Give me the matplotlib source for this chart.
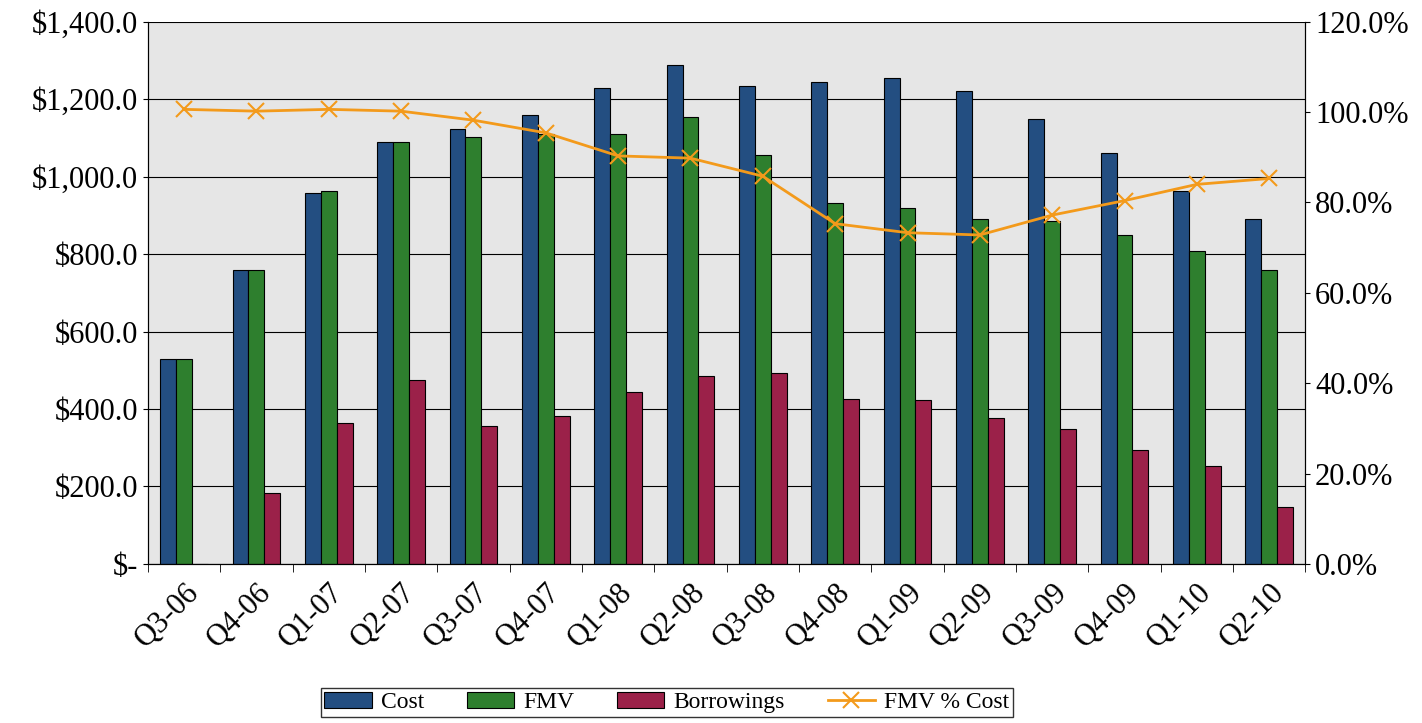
import matplotlib.pyplot as plt
import numpy as np
from matplotlib.ticker import FuncFormatter

quarters = ['Q3-06', 'Q4-06', 'Q1-07', 'Q2-07', 'Q3-07', 'Q4-07', 'Q1-08', 'Q2-08',
            'Q3-08', 'Q4-08', 'Q1-09', 'Q2-09', 'Q3-09', 'Q4-09', 'Q1-10', 'Q2-10']
cost = [530, 760, 958, 1090, 1123, 1160, 1230, 1288, 1235, 1243, 1255, 1222, 1148, 1060, 962, 890]
fmv = [530, 760, 962, 1090, 1102, 1110, 1110, 1155, 1057, 933, 920, 890, 885, 850, 808, 760]
borrowings = [0, 183, 365, 476, 357, 382, 443, 485, 493, 425, 422, 377, 348, 293, 253, 147]
fmv_pct = [100.6, 100.2, 100.6, 100.2, 98.2, 95.4, 90.3, 89.8, 85.8, 75.3, 73.3, 72.8,
           77.2, 80.4, 84.0, 85.3]

plt.rcParams['font.family'] = ['Liberation Serif', 'DejaVu Serif']
plt.rcParams['font.size'] = 22

fig = plt.figure(figsize=(14.22, 7.23), dpi=100)
ax = fig.add_axes([0.104, 0.22, 0.814, 0.75])
ax.set_facecolor('#E6E6E6')

x = np.arange(len(quarters))
w = 0.22
ax.bar(x - w, cost, w, color='#234E81', edgecolor='black', linewidth=0.8, label='Cost', zorder=2)
ax.bar(x, fmv, w, color='#2E7F2E', edgecolor='black', linewidth=0.8, label='FMV', zorder=2)
ax.bar(x + w, borrowings, w, color='#9B2149', edgecolor='black', linewidth=0.8, label='Borrowings', zorder=2)

ax.set_xlim(-0.5, len(quarters) - 0.5)
ax.set_ylim(0, 1400)
ax.set_yticks(np.arange(0, 1401, 200))
ax.yaxis.set_major_formatter(FuncFormatter(lambda v, p: '$-' if v == 0 else f'${v:,.1f}'))
ax.grid(axis='y', color='black', linewidth=0.8, zorder=1)
ax.set_xticks(x)
ax.set_xticklabels(quarters, rotation=45, ha='right', rotation_mode='anchor')
ax.tick_params(axis='x', length=0, pad=10)
ax.set_xticks(np.arange(-0.5, len(quarters), 1), minor=True)
ax.tick_params(axis='x', which='minor', length=6)

ax2 = ax.twinx()
ax2.plot(x, fmv_pct, color='#F39A1B', marker='x', markersize=12, markeredgewidth=1.5,
         linewidth=2, label='FMV % Cost')
ax2.set_ylim(0, 120)
ax2.set_yticks(np.arange(0, 121, 20))
ax2.yaxis.set_major_formatter(FuncFormatter(lambda v, p: f'{v:.1f}%'))

for a in (ax, ax2):
    for s in a.spines.values():
        s.set_color('black')
    a.spines['top'].set_visible(False)

h1, l1 = ax.get_legend_handles_labels()
h2, l2 = ax2.get_legend_handles_labels()
fig.legend(h1 + h2, l1 + l2, loc='lower center', bbox_to_anchor=(0.469, -0.008), ncol=4,
           frameon=True, fancybox=False, edgecolor='black', fontsize=17,
           handlelength=2.0, handletextpad=0.4, columnspacing=1.8, borderpad=0.15)

fig.savefig('out.png', dpi=100)
